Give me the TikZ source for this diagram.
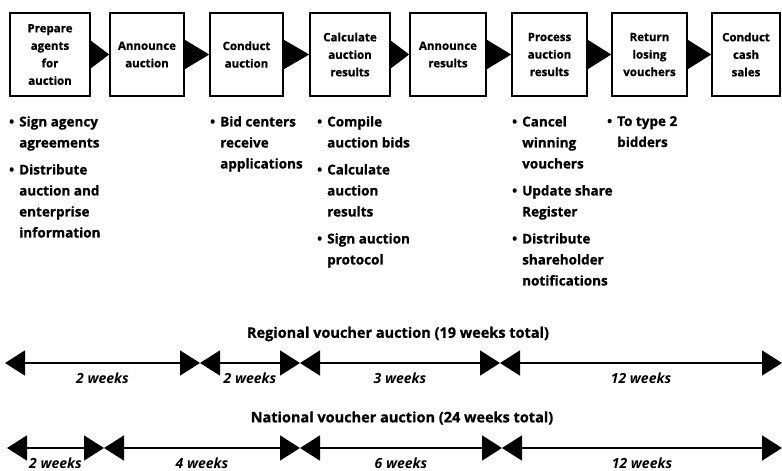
\documentclass[tikz,border=0pt]{standalone}
\usepackage{fontspec}
\setmainfont{Open Sans}[BoldFeatures={FakeBold=0.8}]
\usetikzlibrary{arrows.meta}
\newcommand\bulletmark{\leavevmode\llap{\textbullet\hspace{5pt}}}

\begin{document}
\begin{tikzpicture}[x=1pt,y=-1pt,
  stage/.style={draw, line width=1.7pt, fill=white, minimum height=83pt,
    inner sep=1pt, align=center, font=\fontsize{11.5}{17.5}\selectfont\bfseries},
  flow/.style={line width=0.6pt, -{Triangle[length=#1, width=30pt]}},
  notes/.style={anchor=north west, inner sep=0pt, align=left,
    font=\fontsize{13.5}{21}\selectfont\bfseries},
  span/.style={line width=1.6pt,
    {Triangle[length=20pt,width=25pt]}-{Triangle[length=20pt,width=25pt]}},
  weeks/.style={font=\fontsize{14}{15}\selectfont\bfseries\itshape, inner sep=0pt},
  heading/.style={font=\fontsize{14.5}{16}\selectfont\bfseries, inner sep=0pt}
]
\useasboundingbox (0,0) rectangle (782,471);

% process stages
\node[stage, minimum width=80pt] (b1) at (50,54.5)    {Prepare\\agents\\for\\auction};
\node[stage, minimum width=74pt] (b2) at (147,54.5)   {Announce\\auction};
\node[stage, minimum width=73pt] (b3) at (246.5,54.5) {Conduct\\auction};
\node[stage, minimum width=80pt] (b4) at (350,54.5)   {Calculate\\auction\\results};
\node[stage, minimum width=76pt] (b5) at (448,54.5)   {Announce\\results};
\node[stage, minimum width=75pt] (b6) at (549.5,54.5) {Process\\auction\\results};
\node[stage, minimum width=75pt] (b7) at (649.5,54.5) {Return\\losing\\vouchers};
\node[stage, minimum width=68pt] (b8) at (746,54.5)   {Conduct\\cash\\sales};

\draw[flow=20pt] (b1.east) -- (b2.west);
\draw[flow=25pt] (b2.east) -- (b3.west);
\draw[flow=26pt] (b3.east) -- (b4.west);
\draw[flow=20pt] (b4.east) -- (b5.west);
\draw[flow=25pt] (b5.east) -- (b6.west);
\draw[flow=24pt] (b6.east) -- (b7.west);
\draw[flow=24pt] (b7.east) -- (b8.west);

% activities under the stages
\node[notes] (t1) at (19,116) {\bulletmark Sign agency\\agreements\\[6pt]
  \bulletmark Distribute\\auction and\\enterprise\\information};
\node[notes] (t3) at (220,116) {\bulletmark Bid centers\\receive\\applications};
\node[notes] (t4) at (327,116) {\bulletmark Compile\\auction bids\\[6pt]
  \bulletmark Calculate\\auction\\results\\[6pt]
  \bulletmark Sign auction\\protocol};
\node[notes] (t6) at (522,116) {\bulletmark Cancel\\winning\\vouchers\\[6pt]
  \bulletmark Update share\\Register\\[6pt]
  \bulletmark Distribute\\shareholder\\notifications};
\node[notes] (t7) at (617,116) {\bulletmark To type 2\\bidders};

% regional timeline
\node[heading] (rh) at (398,334) {Regional voucher auction (19 weeks total)};
\coordinate (r0) at (5,363);
\coordinate (r1) at (200,363);
\coordinate (r2) at (300,363);
\coordinate (r3) at (500,363);
\coordinate (r4) at (782,363);
\draw[span] (r0) -- node[weeks, yshift=-15pt] (rw1) {2 weeks} (r1);
\draw[span] (r1) -- node[weeks, yshift=-15pt] (rw2) {2 weeks} (r2);
\draw[span] (r2) -- node[weeks, yshift=-15pt] (rw3) {3 weeks} (r3);
\draw[span] (r3) -- node[weeks, yshift=-15pt] (rw4) {12 weeks} (r4);

% national timeline
\node[heading] (nh) at (402,418) {National voucher auction (24 weeks total)};
\coordinate (n0) at (7,448);
\coordinate (n1) at (104,448);
\coordinate (n2) at (300,448);
\coordinate (n3) at (502,448);
\coordinate (n4) at (782,448);
\draw[span] (n0) -- node[weeks, yshift=-15pt] (nw1) {2 weeks} (n1);
\draw[span] (n1) -- node[weeks, yshift=-15pt] (nw2) {4 weeks} (n2);
\draw[span] (n2) -- node[weeks, yshift=-15pt] (nw3) {6 weeks} (n3);
\draw[span] (n3) -- node[weeks, yshift=-15pt] (nw4) {12 weeks} (n4);
\end{tikzpicture}
\end{document}
